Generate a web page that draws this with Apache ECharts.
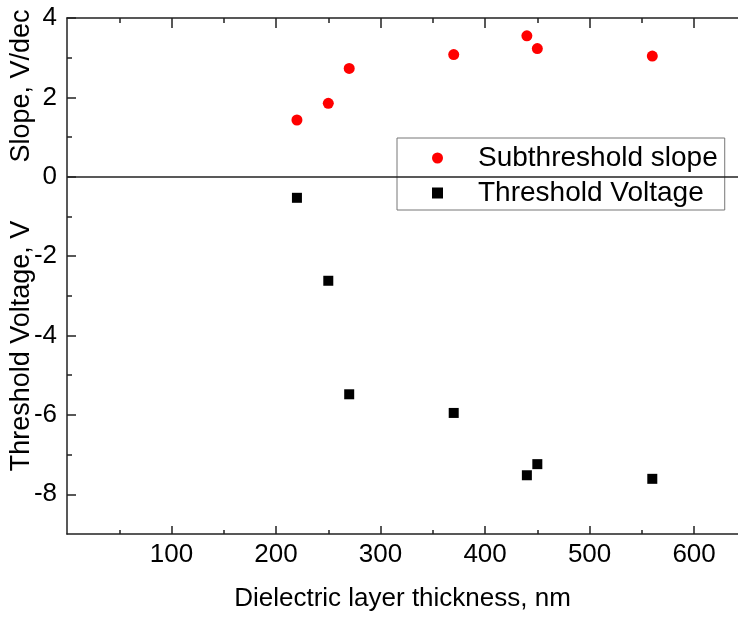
<!DOCTYPE html>
<html>
<head>
<meta charset="utf-8">
<script src="https://cdn.jsdelivr.net/npm/echarts@6/dist/echarts.min.js"></script>
<style>
html, body { margin: 0; padding: 0; background: #fff; }
#chart { width: 738px; height: 617px; }
</style>
</head>
<body>
<div id="chart"></div>
<script>
// data
var thickness = [220, 250, 270, 370, 440, 450, 560];
var slope = [1.43, 1.85, 2.73, 3.08, 3.55, 3.23, 3.04];
var threshold = [-0.53, -2.62, -5.48, -5.95, -7.52, -7.24, -7.61];

var xMajor = [100, 200, 300, 400, 500, 600];
var xMinor = [50, 150, 250, 350, 450, 550];
var yMajor = [-8, -6, -4, -2, 0, 2, 4];
var yMinor = [-7, -5, -3, -1, 1, 3];

var FONT = "Liberation Sans";
var axisColor = "#222";

var chart = echarts.init(document.getElementById("chart"));

function xAx(pos, ticks, len, main) {
  return {
    type: "value",
    position: pos,
    min: 0,
    max: 642,
    axisLine: { show: main, onZero: false, lineStyle: { color: axisColor, width: 1.5 } },
    axisTick: { show: true, inside: true, length: len, customValues: ticks,
                lineStyle: { color: axisColor, width: 1.5 } },
    axisLabel: { show: main && pos === "bottom", customValues: xMajor, margin: 8,
                 fontSize: 26, color: "#000", fontFamily: FONT },
    splitLine: { show: false },
    name: main && pos === "bottom" ? "Dielectric layer thickness, nm" : "",
    nameLocation: "middle",
    nameGap: 52,
    nameTextStyle: { fontSize: 26, color: "#000", fontFamily: FONT }
  };
}

function yAx(ticks, len, main) {
  return {
    type: "value",
    position: "left",
    min: -9,
    max: 4,
    axisLine: { show: main, onZero: false, lineStyle: { color: axisColor, width: 1.5 } },
    axisTick: { show: true, inside: true, length: len, customValues: ticks,
                lineStyle: { color: axisColor, width: 1.5 } },
    axisLabel: { show: main, customValues: yMajor, margin: 10,
                 fontSize: 26, color: "#000", fontFamily: FONT },
    splitLine: { show: false }
  };
}

chart.setOption({
  animation: false,
  grid: { left: 67, right: 0, top: 18, bottom: 82 },
  xAxis: [
    xAx("bottom", xMajor, 8, true),
    xAx("bottom", xMinor, 4, false),
    xAx("top", xMajor, 10, true),
    xAx("top", xMinor, 5, false)
  ],
  yAxis: [
    yAx(yMajor, 9, true),
    yAx(yMinor, 5, false)
  ],
  legend: {
    data: ["Subthreshold slope", "Threshold Voltage"],
    orient: "vertical",
    left: 397,
    top: 138,
    padding: [5, 7, 2, 35],
    itemWidth: 11,
    itemHeight: 11,
    itemGap: 5,
    borderColor: "#777",
    borderWidth: 1,
    borderRadius: 0,
    backgroundColor: "#fff",
    textStyle: { fontSize: 28, color: "#000", fontFamily: FONT, lineHeight: 30, padding: [0, 0, 0, 30] }
  },
  graphic: [
    {
      type: "text", x: 22, y: 86, rotation: Math.PI / 2,
      style: { text: "Slope, V/dec", fontSize: 27, fontFamily: FONT, fill: "#000",
               align: "center", verticalAlign: "middle" }
    },
    {
      type: "text", x: 22, y: 346, rotation: Math.PI / 2,
      style: { text: "Threshold Voltage, V", fontSize: 27, fontFamily: FONT, fill: "#000",
               align: "center", verticalAlign: "middle" }
    }
  ],
  series: [
    {
      name: "Subthreshold slope",
      type: "scatter",
      symbol: "circle",
      symbolSize: 11,
      itemStyle: { color: "#ff0000", opacity: 1 },
      data: thickness.map(function (x, i) { return [x, slope[i]]; })
    },
    {
      name: "Threshold Voltage",
      type: "scatter",
      symbol: "rect",
      symbolSize: 10,
      itemStyle: { color: "#000", opacity: 1 },
      data: thickness.map(function (x, i) { return [x, threshold[i]]; }),
      markLine: {
        silent: true,
        symbol: "none",
        label: { show: false },
        lineStyle: { color: axisColor, width: 1.5, type: "solid" },
        data: [{ yAxis: 0 }]
      }
    }
  ]
});
</script>
</body>
</html>
